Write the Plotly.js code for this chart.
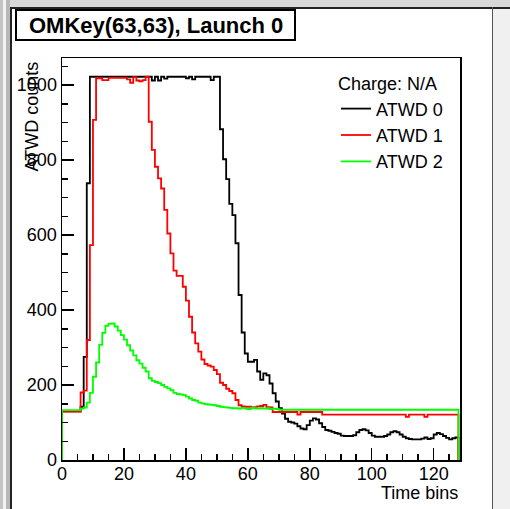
<!DOCTYPE html>
<html><head><meta charset="utf-8">
<script src="https://cdn.plot.ly/plotly-3.0.1.min.js"></script>
<style>
html,body{margin:0;padding:0;background:#fff;}
#wrap{position:relative;width:510px;height:509px;overflow:hidden;background:#fff;}
#plot{position:absolute;left:0;top:0;width:510px;height:509px;}
.chrome{position:absolute;}
</style></head><body>
<div id="wrap">
<div class="chrome" style="left:0;top:0;width:510px;height:7px;background:#d8d8d8;"></div>
<div class="chrome" style="left:0;top:0;width:10px;height:509px;background:linear-gradient(to right,#c4c4c4 0,#c4c4c4 3px,#f2f2f2 3px,#f2f2f2 6px,#b8b8b8 6px,#b8b8b8 10px);"></div>
<div class="chrome" style="left:10px;top:7px;width:2px;height:502px;background:#222;"></div>
<div class="chrome" style="left:10px;top:7px;width:500px;height:2px;background:#222;"></div>
<div class="chrome" style="left:492px;top:7px;width:1px;height:502px;background:#555;"></div>
<div class="chrome" style="left:493px;top:9px;width:17px;height:500px;background:#f0f0f0;"></div>
<div id="plot"></div>
</div>
<script>
// ---- data (128 time bins, 0..127) ----
var binCount = 128;
var seriesNames = ['ATWD 0', 'ATWD 1', 'ATWD 2'];
var seriesColors = ['#000000', '#ff0000', '#00ff00'];
var atwd0 = [
130,130,130,130,130,130,142,275,738,1022,
1022,1022,1022,1022,1022,1022,1022,1022,1022,1022,
1022,1022,1022,1022,1022,1022,1022,1022,1022,1012,
1022,1012,1022,1017,1022,1022,1022,1022,1022,1022,
1018,1022,1015,1022,1022,1022,1022,1022,1013,1022,
1022,882,802,749,683,653,578,440,340,284,
262,262,267,236,214,231,226,204,178,156,
138,124,110,102,100,97,90,84,82,93,
105,111,108,98,88,80,78,75,72,70,
65,64,64,64,66,74,80,82,79,72,
65,62,62,62,64,68,74,77,74,68,
62,58,56,55,55,55,57,60,56,58,
68,72,69,64,59,55,58,60
];
var atwd1 = [
129,129,129,129,129,129,180,185,320,573,
907,1018,1018,1013,1013,1019,1019,1019,1019,1019,
1019,1015,1006,1021,1012,1010,1013,1022,902,827,
782,751,724,667,604,551,505,491,491,462,
425,382,340,311,289,268,256,252,249,240,
229,206,200,190,184,178,160,146,143,142,
142,140,141,143,144,147,141,140,128,128,
128,128,128,128,128,128,121,128,128,128,
128,128,128,128,121,121,121,121,121,121,
121,121,121,121,121,121,121,121,121,121,
121,121,121,121,121,121,121,121,121,121,
121,115,121,121,121,121,121,115,121,121,
121,121,121,121,121,121,121,121
];
var atwd2 = [
133,133,133,133,133,133,137,140,153,179,
222,260,307,339,358,363,364,356,345,333,
321,306,292,279,266,257,246,236,218,211,
208,205,200,195,191,186,179,176,175,173,
169,164,160,158,153,151,149,148,147,146,
144,142,141,140,139,138,138,137,139,137,
136,139,138,137,138,137,138,136,137,136,
134,134,134,134,134,134,134,134,134,134,
134,134,134,134,134,134,134,134,134,134,
134,134,134,134,134,134,134,134,134,134,
134,134,134,134,134,134,134,134,134,134,
134,134,134,134,134,134,134,134,134,134,
134,134,134,134,134,134,134,134
];
var xTickVals = [0,20,40,60,80,100,120];
var yTickVals = [0,200,400,600,800,1000];
var titleText = 'OMKey(63,63), Launch 0';
var xTitle = 'Time bins';
var yTitle = 'ATWD counts';
var legendTitle = 'Charge: N/A';

// ---- build histogram outlines (ROOT-style step) ----
function stepTrace(vals, name, color) {
  var xs = [0], ys = [0];
  for (var i = 0; i < vals.length; i++) { xs.push(i); ys.push(vals[i]); }
  xs.push(vals.length); ys.push(vals[vals.length - 1]);
  xs.push(vals.length); ys.push(0);
  return {x: xs, y: ys, type: 'scatter', mode: 'lines', name: name,
          line: {shape: 'hv', color: color, width: 1.8}, hoverinfo: 'skip'};
}
var data = [
  stepTrace(atwd0, seriesNames[0], seriesColors[0]),
  stepTrace(atwd1, seriesNames[1], seriesColors[1]),
  stepTrace(atwd2, seriesNames[2], seriesColors[2])
];

var L = 62, R = 460, T = 58, B = 460, W = 510, H = 509;
function px2x(p) { return (p - L) / (R - L); }
function px2y(p) { return (B - p) / (B - T); }
var FONT = 'Liberation Sans, Arial, Helvetica, sans-serif';

var axisCommon = {
  showgrid: false, zeroline: false, showline: true, linecolor: '#000', linewidth: 1.5,
  mirror: true, ticks: 'inside', ticklen: 12, tickwidth: 1.5, tickcolor: '#000',
  tickfont: {family: FONT, size: 18, color: '#000'}, fixedrange: true
};
var layout = {
  width: W, height: H,
  margin: {l: L, r: W - R, t: T, b: H - B, pad: 0},
  paper_bgcolor: 'rgba(0,0,0,0)', plot_bgcolor: 'rgba(0,0,0,0)',
  font: {family: FONT, size: 18, color: '#000'},
  showlegend: true,
  legend: {x: px2x(336), y: px2y(67), xanchor: 'left', yanchor: 'top',
           bgcolor: 'rgba(0,0,0,0)', borderwidth: 0,
           title: {text: legendTitle, font: {family: FONT, size: 18}},
           font: {family: FONT, size: 18}, tracegroupgap: 0},
  xaxis: Object.assign({}, axisCommon, {range: [0, 128.5], tickvals: xTickVals, ticklabelstandoff: -3,
    minor: {ticks: 'inside', ticklen: 6, tickwidth: 1.5, tickcolor: '#000', dtick: 5, tick0: 0, showgrid: false}}),
  yaxis: Object.assign({}, axisCommon, {range: [0, 1072], tickvals: yTickVals,
    minor: {ticks: 'inside', ticklen: 6, tickwidth: 1.5, tickcolor: '#000', dtick: 50, tick0: 0, showgrid: false}}),
  shapes: [
    {type: 'rect', xref: 'paper', yref: 'paper', x0: px2x(16), x1: px2x(295), y0: px2y(40), y1: px2y(10),
     line: {color: '#000', width: 2}, fillcolor: '#fff', layer: 'above'}
  ],
  annotations: [
    {text: '<b>' + titleText + '</b>', xref: 'paper', yref: 'paper', x: px2x(155.5), y: px2y(25.5),
     xanchor: 'center', yanchor: 'middle', showarrow: false, font: {family: FONT, size: 22, color: '#000'}},
    {text: xTitle, xref: 'paper', yref: 'paper', x: px2x(460), y: px2y(493),
     xanchor: 'right', yanchor: 'middle', showarrow: false, font: {family: FONT, size: 18, color: '#000'}},
    {text: yTitle, xref: 'paper', yref: 'paper', x: px2x(31), y: px2y(116.5), textangle: -90,
     xanchor: 'center', yanchor: 'middle', showarrow: false, font: {family: FONT, size: 18, color: '#000'}}
  ]
};
Plotly.newPlot('plot', data, layout, {staticPlot: true, displayModeBar: false});
</script>
</body></html>
